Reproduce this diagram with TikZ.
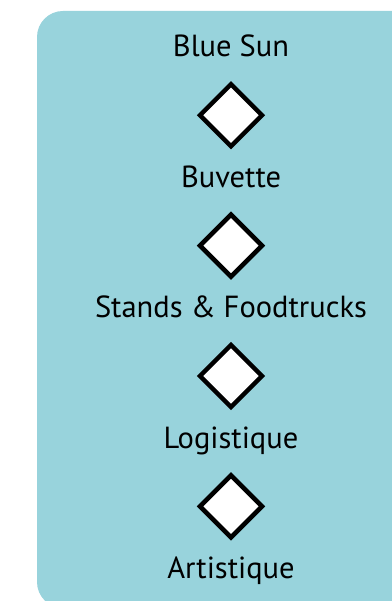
\documentclass[tikz,border=0pt]{standalone}
\usepackage{fontspec}
\setmainfont{PT Sans}
\usetikzlibrary{shapes.geometric, positioning}
\definecolor{panelblue}{RGB}{152,211,220}

\begin{document}
\begin{tikzpicture}[node distance=20pt,
    dept/.style={inner sep=0pt, text height=21pt, text depth=7pt, font=\fontsize{30.5}{36}\selectfont},
    sepbox/.style={diamond, draw, fill=white, line width=4.5pt, minimum size=62pt, inner sep=0pt, outer sep=0pt}]
    \useasboundingbox (0,0) rectangle (391pt,-601pt);
    \fill[panelblue, rounded corners=26pt] (37pt,-11pt) rectangle (440pt,-608pt);

    \node (bluesun) [dept, anchor=base] at (231pt,-57pt) {Blue Sun};
    \node (sep1) [sepbox, below=of bluesun] {};
    \node (buvette) [dept, below=of sep1] {Buvette};
    \node (sep2) [sepbox, below=of buvette] {};
    \node (stands) [dept, below=of sep2] {Stands \& Foodtrucks};
    \node (sep3) [sepbox, below=of stands] {};
    \node (logistique) [dept, below=of sep3] {Logistique};
    \node (sep4) [sepbox, below=of logistique] {};
    \node (artistique) [dept, below=of sep4] {Artistique};
\end{tikzpicture}
\end{document}
